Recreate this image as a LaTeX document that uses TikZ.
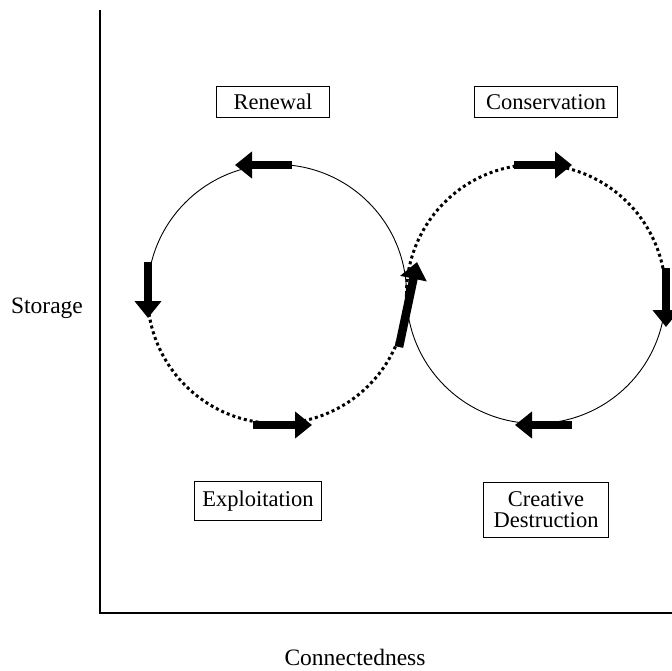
\documentclass[tikz,border=0pt]{standalone}
\usepackage{fontspec}
\setmainfont{Liberation Serif}
\usepackage{tikz}
\usetikzlibrary{arrows.meta}

\begin{document}
\begin{tikzpicture}[x=1pt, y=-1pt,
  phase_box/.style={draw, line width=1.8pt, inner sep=0pt, align=center, font=\fontsize{22.5}{21}\selectfont},
  flow_arrow/.style={line width=8.5pt, -{Triangle[length=17pt, width=26pt]}},
  solid_arc/.style={line width=0.9pt},
  dotted_arc/.style={line width=3pt, dash pattern=on 3pt off 3pt},
  axis_label/.style={font=\fontsize{23.5}{26}\selectfont},
]
  \useasboundingbox (0,0) rectangle (672,670);
  % axes
  \coordinate (ytop) at (100,10);
  \coordinate (origin) at (100,613);
  \coordinate (xend) at (672,613);
  \draw[line width=1.3pt] (ytop) -- (origin) -- (xend);
  \node[axis_label, anchor=base] (storage) at (47,313) {Storage};
  \node[axis_label, anchor=base] (connect) at (355,665) {Connectedness};

  % the two loops, touching at the middle
  \coordinate (cl) at (277,294);
  \coordinate (cr) at (536,294);
  \draw[solid_arc]  (cl) ++(180:129.5) arc[start angle=180, end angle=360, radius=129.5];
  \draw[dotted_arc] (cl) ++(0:129.5)   arc[start angle=0,   end angle=180, radius=129.5];
  \draw[dotted_arc] (cr) ++(180:129.5) arc[start angle=180, end angle=360, radius=129.5];
  \draw[solid_arc]  (cr) ++(0:129.5)   arc[start angle=0,   end angle=180, radius=129.5];

  % direction of flow
  \foreach \name/\sx/\sy/\ex/\ey in {renew/292/165/235/165, fall/148/262/148/318,
      exploit/253/425/312/425, cross/399/347/417/262, conserve/514/165/572/165,
      release/666/268/666/327, destroy/572/425/515/425}{
    \coordinate (\name_s) at (\sx,\sy);
    \coordinate (\name_e) at (\ex,\ey);
    \draw[flow_arrow] (\name_s) -- (\name_e);
  }

  % phases
  \node[phase_box, minimum width=113pt, minimum height=31pt] (renewal) at (273,102) {Renewal};
  \node[phase_box, minimum width=143pt, minimum height=31pt] (conservation) at (546,102) {Conservation};
  \node[phase_box, minimum width=127pt, minimum height=39pt] (exploitation) at (258,501) {Exploitation};
  \node[phase_box, minimum width=125pt, minimum height=55pt] (destruction) at (546,510) {Creative\\Destruction};
\end{tikzpicture}
\end{document}
